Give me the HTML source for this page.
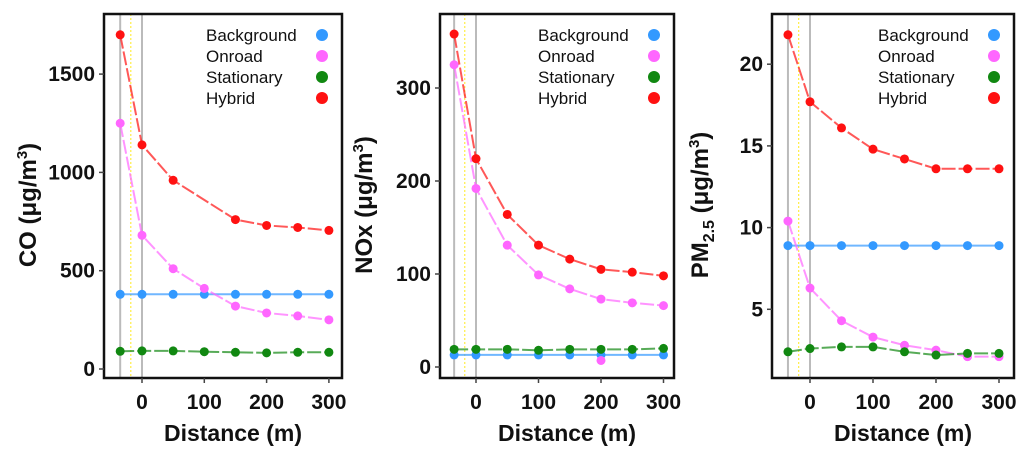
<!DOCTYPE html>
<html><head><meta charset="utf-8"><style>
body{margin:0;background:#fff;width:1024px;height:457px;overflow:hidden}
svg text{font-family:"Liberation Sans",sans-serif}
</style></head><body>
<svg id="s" width="1024" height="457"></svg>
<script>
const xCats=[-35,0,50,100,150,200,250,300];
const xTicks=[0,100,200,300];
const coBg=[380,380,380,380,380,380,380,380];
const coOn=[1250,680,510,410,320,285,270,250];
const coSt=[90,92,92,88,85,82,85,85];
const coHy=[1700,1140,960,null,760,730,720,705];
const coTicks=[0,500,1000,1500];
const noBg=[13,13,13,13,13,13,13,13];
const noOn=[325,192,131,99,84,73,69,66];
const noSt=[19,19,19,18,19,19,19,20];
const noHy=[358,224,164,131,116,105,102,98];
const noTicks=[0,100,200,300];
const pmBg=[8.9,8.9,8.9,8.9,8.9,8.9,8.9,8.9];
const pmOn=[10.4,6.3,4.3,3.3,2.8,2.5,2.1,2.1];
const pmSt=[2.4,2.6,2.7,2.7,2.4,2.2,2.3,2.3];
const pmHy=[21.8,17.7,16.1,14.8,14.2,13.6,13.6,13.6];
const pmTicks=[5,10,15,20];
const legendLabels=["Background","Onroad","Stationary","Hybrid"];
const colors=["#3399ff","#ff66ff","#118811","#ff1111"];
const NS="http://www.w3.org/2000/svg";
const svg=document.getElementById('s');
function mk(t,a,p){const e=document.createElementNS(NS,t);for(const k in a)e.setAttribute(k,a[k]);(p||svg).appendChild(e);return e;}
const panels=[
 {name:'co',L:104,R:342,x0:142,xs:0.623,y0:369,ys:98.3/500,ticks:coTicks,series:[coBg,coOn,coSt,coHy],title:'CO (μg/m',tx:28},
 {name:'nox',L:440,R:674,x0:476,xs:0.625,y0:367,ys:0.93,ticks:noTicks,series:[noBg,noOn,noSt,noHy],title:'NOx (μg/m',tx:364,extra:[200,7]},
 {name:'pm',L:772,R:1014,x0:810,xs:0.63,y0:391,ys:81.7/5,ticks:pmTicks,series:[pmBg,pmOn,pmSt,pmHy],title:'PM',tx:700}
];
panels.forEach(p=>{
 const g=mk('g',{});
 
 
 const X=v=>p.x0+v*p.xs, Y=v=>p.y0-v*p.ys;
 const T=14,B=378;
 [-35,0].forEach(v=>{const l=mk('line',{x1:X(v),x2:X(v),y1:T,y2:B,stroke:'#bbb','stroke-width':2},g);});
 const yl=mk('line',{x1:X(-18),x2:X(-18),y1:T,y2:B,stroke:'#ffee44','stroke-width':1.2,'stroke-dasharray':'2,2'},g);
 
 p.series.forEach((s,i)=>{
  let pts=[];xCats.forEach((x,j)=>{if(s[j]!=null)pts.push(X(x)+','+Y(s[j]));});
  const pl=mk('polyline',{points:pts.join(' '),fill:'none',stroke:colors[i],'stroke-width':2,opacity:0.7,'stroke-dasharray':i==0?'':'14,3'},g);
  
  xCats.forEach((x,j)=>{if(s[j]==null)return;const c=mk('circle',{cx:X(x),cy:Y(s[j]),r:4.5,fill:colors[i]},g);});
 });
 if(p.extra){const c=mk('circle',{cx:X(p.extra[0]),cy:Y(p.extra[1]),r:4.5,fill:colors[1]},g);}
 const box=mk('rect',{x:p.L,y:T,width:p.R-p.L,height:B-T,fill:'none',stroke:'#111','stroke-width':2.5},g);
 
 xTicks.forEach(v=>{mk('line',{x1:X(v),x2:X(v),y1:B,y2:B+5,stroke:'#444','stroke-width':1.5},g);
  const t=mk('text',{x:X(v),y:409,'text-anchor':'middle','font-size':21,'font-weight':'bold',fill:'#111'},g);t.textContent=v;});
 p.ticks.forEach(v=>{mk('line',{x1:p.L-5,x2:p.L,y1:Y(v),y2:Y(v),stroke:'#444','stroke-width':1.5},g);
  const t=mk('text',{x:p.L-9,y:Y(v)+7,'text-anchor':'end','font-size':21,'font-weight':'bold',fill:'#111'},g);t.textContent=v;});
 const xt=mk('text',{x:(p.L+p.R)/2+10,y:441,'text-anchor':'middle','font-size':23,'font-weight':'bold',fill:'#111'},g);
 xt.textContent='Distance (m)';
 const yt=mk('text',{transform:`translate(${p.tx+8},205) rotate(-90)`,'text-anchor':'middle','font-size':24,'font-weight':'bold',fill:'#111'},g);
 
 if(p.name=='pm'){yt.innerHTML='PM<tspan font-size="16" dy="6">2.5</tspan><tspan dy="-6"> (μg/m</tspan><tspan font-size="15" dy="-9">3</tspan><tspan dy="9">)</tspan>';}
 else yt.innerHTML=p.title+'<tspan font-size="15" dy="-9">3</tspan><tspan dy="9">)</tspan>';
 legendLabels.forEach((lb,i)=>{const ly=41+i*21;
  const t=mk('text',{x:p.R-136,y:ly,'font-size':17,fill:'#111'},g);t.textContent=lb;
  const c=mk('circle',{cx:p.R-20,cy:ly-6,r:6,fill:colors[i]},g);});
});
</script></body></html>
